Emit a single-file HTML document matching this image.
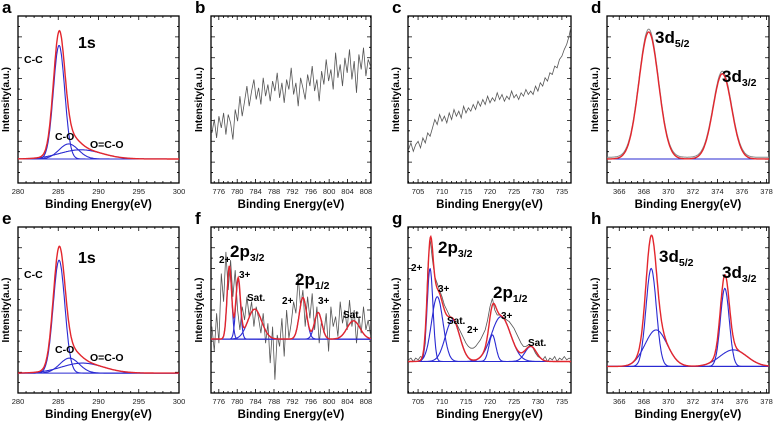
<!DOCTYPE html>
<html><head><meta charset="utf-8"><style>
html,body{margin:0;padding:0;background:#fff;}
svg{display:block;font-family:"Liberation Sans",Arial,sans-serif;}
</style></head><body>
<svg id="fig" width="778" height="423" viewBox="0 0 778 423"></svg>
<script>
// ---- data arrays ----
const aCenters=[285.1,286.3,287.8], aHeights=[0.68,0.09,0.055], aSigmas=[0.7,1.2,2.6];
const eCenters=[285.1,286.4,288.0], eHeights=[0.68,0.09,0.06], eSigmas=[0.72,1.2,2.6];
const dCenters=[368.4,374.4], dHeights=[0.76,0.51], dSigmas=[0.8,0.75];
const fCenters=[778.3,780.2,783.8,794.3,797.6,805.3], fHeights=[0.44,0.36,0.18,0.25,0.16,0.11], fSigmas=[0.5,0.5,1.5,0.8,0.8,1.4];
const gCenters=[707.5,709.0,712.2,720.5,722.3,728.5], gHeights=[0.56,0.39,0.25,0.16,0.27,0.09], gSigmas=[0.6,1.2,1.5,0.7,2.0,1.2];
const hCenters=[368.6,369.0,374.6,375.3], hHeights=[0.59,0.22,0.47,0.10], hSigmas=[0.42,0.9,0.36,1.1];
const bData=[0.30,0.38,0.27,0.40,0.33,0.42,0.29,0.41,0.36,0.26,0.44,0.37,0.52,0.40,0.49,0.58,0.46,0.55,0.62,0.50,0.57,0.47,0.63,0.52,0.59,0.49,0.61,0.55,0.66,0.51,0.60,0.48,0.62,0.56,0.69,0.53,0.60,0.46,0.63,0.57,0.50,0.65,0.58,0.70,0.55,0.62,0.49,0.67,0.59,0.74,0.61,0.68,0.56,0.78,0.63,0.71,0.58,0.75,0.66,0.80,0.62,0.73,0.54,0.77,0.68,0.81,0.64,0.74,0.70];
const cData=[0.20,0.24,0.19,0.23,0.25,0.21,0.27,0.24,0.30,0.28,0.33,0.38,0.35,0.41,0.37,0.40,0.36,0.42,0.38,0.44,0.40,0.43,0.39,0.46,0.42,0.45,0.43,0.47,0.44,0.49,0.46,0.50,0.47,0.52,0.48,0.51,0.49,0.54,0.50,0.53,0.49,0.52,0.50,0.55,0.51,0.53,0.50,0.54,0.52,0.56,0.53,0.55,0.53,0.58,0.55,0.60,0.58,0.63,0.61,0.66,0.65,0.70,0.69,0.74,0.76,0.80,0.83,0.88,0.95];
const fData=[0.40,0.25,0.48,0.30,0.72,0.55,0.85,0.62,0.80,0.58,0.74,0.50,0.38,0.52,0.44,0.58,0.46,0.55,0.40,0.52,0.45,0.36,0.48,0.30,0.42,0.18,0.40,0.08,0.35,0.28,0.45,0.22,0.50,0.33,0.42,0.55,0.48,0.70,0.52,0.62,0.40,0.58,0.45,0.60,0.38,0.52,0.30,0.44,0.36,0.48,0.25,0.52,0.40,0.46,0.34,0.55,0.42,0.50,0.38,0.56,0.40,0.50,0.30,0.46,0.36,0.52,0.38,0.44,0.35];
const gData=[0.20,0.21,0.19,0.21,0.20,0.22,0.21,0.30,0.75,0.93,0.80,0.70,0.66,0.62,0.58,0.53,0.50,0.47,0.45,0.44,0.42,0.39,0.36,0.33,0.30,0.28,0.27,0.27,0.28,0.30,0.32,0.35,0.38,0.44,0.52,0.57,0.50,0.47,0.47,0.46,0.45,0.44,0.43,0.41,0.39,0.36,0.33,0.30,0.28,0.28,0.29,0.29,0.27,0.24,0.22,0.21,0.20,0.22,0.19,0.21,0.20,0.22,0.19,0.21,0.20,0.22,0.20,0.21,0.20];
const aTicks=[280,285,290,295,300], bTicks=[776,780,784,788,792,796,800,804,808];
const cTicks=[705,710,715,720,725,730,735], dTicks=[366,368,370,372,374,376,378];

const NS="http://www.w3.org/2000/svg";
const svg=document.getElementById('fig');
function mk(tag,attrs,parent){const e=document.createElementNS(NS,tag);for(const k in attrs)e.setAttribute(k,attrs[k]);(parent||svg).appendChild(e);return e;}
const RED="#e3262d",BLUE="#2a2ad2",GREY="#555";

function panel(p){
  const g=mk('g',{});
  
  
  const sx=v=>p.x0+(v-p.xmin)/(p.xmax-p.xmin)*(p.x1-p.x0);
  const sy=v=>p.y1-v*(p.y1-p.y0);
  const fr=mk('rect',{x:p.x0,y:p.y0,width:p.x1-p.x0,height:p.y1-p.y0,fill:'none',stroke:'#000','stroke-width':1.3},g);
  
  
  let tp='';
  for(let v=Math.ceil(p.xmin/p.minor)*p.minor;v<=p.xmax+1e-9;v+=p.minor){
    const isMaj=p.ticks.some(t=>Math.abs(t-v)<1e-6);const L=isMaj?4:2;const X=sx(v);
    tp+=`M${X} ${p.y1}v${-L}M${X} ${p.y0}v${L}`;
  }
  for(let i=0;i<=16;i++){const Y=sy(i/16);const L=i%2==0?4:2;tp+=`M${p.x0} ${Y}h${L}M${p.x1} ${Y}h${-L}`;}
  const tk=mk('path',{d:tp,stroke:'#000','stroke-width':0.8,fill:'none'},g);
  
  
  p.ticks.forEach(t=>{const tx=mk('text',{x:sx(t),y:p.y1+11,'font-size':7.5,'text-anchor':'middle',fill:'#222'},g);tx.textContent=t;
    
    });
  const xt=mk('text',{x:(p.x0+p.x1)/2,y:p.y1+25,'font-size':11.5,'font-weight':'bold','text-anchor':'middle'},g);xt.textContent='Binding Energy(eV)';
  
  
  const yx=p.x0-9,yy=(p.y0+p.y1)/2;
  const yt=mk('text',{x:yx,y:yy,'font-size':10,'font-weight':'bold','text-anchor':'middle',transform:`rotate(-90 ${yx} ${yy})`},g);yt.textContent='Intensity(a.u.)';
  
  
  const lt=mk('text',{x:p.x0-16,y:p.y0-3,'font-size':17,'font-weight':'bold'},g);lt.textContent=p.id;
  
  
  const clipId='clip'+p.id;const cp=mk('clipPath',{id:clipId},g);mk('rect',{x:p.x0,y:p.y0,width:p.x1-p.x0,height:p.y1-p.y0},cp);
  const cg=mk('g',{'clip-path':`url(#${clipId})`},g);
  if(p.data){let d='';const n=p.data.length;p.data.forEach((v,i)=>{const e=p.dStart+(p.dEnd-p.dStart)*i/(n-1);d+=(i?'L':'M')+sx(e).toFixed(1)+' '+sy(v).toFixed(1);});
    const l=mk('path',{d:d,stroke:GREY,'stroke-width':0.8,fill:'none'},cg);
    
    }
  if(p.centers){
    const N=300;const xs=[];for(let i=0;i<=N;i++)xs.push(p.xmin+(p.xmax-p.xmin)*i/N);
    const comp=(k,e)=>p.heights[k]*Math.exp(-((e-p.centers[k])**2)/(2*p.sigmas[k]**2));
    if(p.greyFit){let d='';xs.forEach((e,i)=>{let s=p.base+0.01;for(let k=0;k<p.centers.length;k++)s+=comp(k,e)*1.01;d+=(i?'L':'M')+sx(e).toFixed(1)+' '+sy(s).toFixed(1);});
      const l=mk('path',{d:d,stroke:'#888','stroke-width':1,fill:'none'},cg);
      
      }
    const bl=mk('line',{x1:p.x0,x2:p.x1,y1:sy(p.base),y2:sy(p.base),stroke:BLUE,'stroke-width':1},cg);
    
    
    if(!p.noComps)for(let k=0;k<p.centers.length;k++){let d='';xs.forEach((e,i)=>{d+=(i?'L':'M')+sx(e).toFixed(1)+' '+sy(p.base+comp(k,e)).toFixed(1);});
      const l=mk('path',{d:d,stroke:BLUE,'stroke-width':1.1,fill:'none'},cg);
      
      }
    let d='';xs.forEach((e,i)=>{let s=p.base;for(let k=0;k<p.centers.length;k++)s+=comp(k,e);d+=(i?'L':'M')+sx(e).toFixed(1)+' '+sy(s).toFixed(1);});
    const l=mk('path',{d:d,stroke:RED,'stroke-width':1.4,fill:'none'},cg);
    
    
  }
  (p.labels||[]).forEach(L=>{const t=mk('text',{x:L[0],y:L[1],'font-size':L[3],'font-weight':'bold'},g);
    
    
    t.textContent=L[2];
    if(L[4]){const s=mk('tspan',{dy:4,'font-size':L[3]*0.62},t);s.textContent=L[4];}});
}
const T=16,B=183,T2=227,B2=393;
const Cx={x0:18,x1:179},Bx={x0:211,x1:371},Ccx={x0:408,x1:571},Dx={x0:607,x1:769};
panel({id:'a',...Cx,y0:T,y1:B,xmin:280,xmax:300,ticks:aTicks,minor:1,centers:aCenters,heights:aHeights,sigmas:aSigmas,base:0.144,
  labels:[[78,48,'1s',16],[24,63,'C-C',10.5],[55,140,'C-O',10.5],[90,148,'O=C-O',10.5]]});
panel({id:'b',...Bx,y0:T,y1:B,xmin:774.3,xmax:809.1,ticks:bTicks,minor:1,data:bData,dStart:774.5,dEnd:809});
panel({id:'c',...Ccx,y0:T,y1:B,xmin:702.9,xmax:736.9,ticks:cTicks,minor:1,data:cData,dStart:703,dEnd:737});
panel({id:'d',...Dx,y0:T,y1:B,xmin:365,xmax:378.2,ticks:dTicks,minor:0.5,centers:dCenters,heights:dHeights,sigmas:dSigmas,base:0.144,noComps:true,greyFit:true,
  labels:[[655,43,'3d',17,'5/2'],[722,82,'3d',17,'3/2']]});
panel({id:'e',...Cx,y0:T2,y1:B2,xmin:280,xmax:300,ticks:aTicks,minor:1,centers:eCenters,heights:eHeights,sigmas:eSigmas,base:0.12,
  labels:[[78,263,'1s',16],[24,278,'C-C',10.5],[55,353,'C-O',10.5],[90,361,'O=C-O',10.5]]});
panel({id:'f',...Bx,y0:T2,y1:B2,xmin:774.3,xmax:809.1,ticks:bTicks,minor:1,data:fData,dStart:774.5,dEnd:809,centers:fCenters,heights:fHeights,sigmas:fSigmas,base:0.325,
  labels:[[230,257,'2p',17,'3/2'],[219,263,'2+',10],[239,278,'3+',10],[247,301,'Sat.',10],[295,285,'2p',17,'1/2'],[282,304,'2+',10],[318,304,'3+',10],[343,318,'Sat.',10]]});
panel({id:'g',...Ccx,y0:T2,y1:B2,xmin:702.9,xmax:736.9,ticks:cTicks,minor:1,data:gData,dStart:703,dEnd:737,centers:gCenters,heights:gHeights,sigmas:gSigmas,base:0.19,
  labels:[[438,253,'2p',17,'3/2'],[411,271,'2+',10],[438,292,'3+',10],[447,324,'Sat.',10],[467,333,'2+',10],[501,319,'3+',10],[493,298,'2p',17,'1/2'],[528,346,'Sat.',10]]});
panel({id:'h',...Dx,y0:T2,y1:B2,xmin:365,xmax:378.2,ticks:dTicks,minor:0.5,centers:hCenters,heights:hHeights,sigmas:hSigmas,base:0.16,
  labels:[[659,262,'3d',17,'5/2'],[722,278,'3d',17,'3/2']]});
</script>
</body></html>
